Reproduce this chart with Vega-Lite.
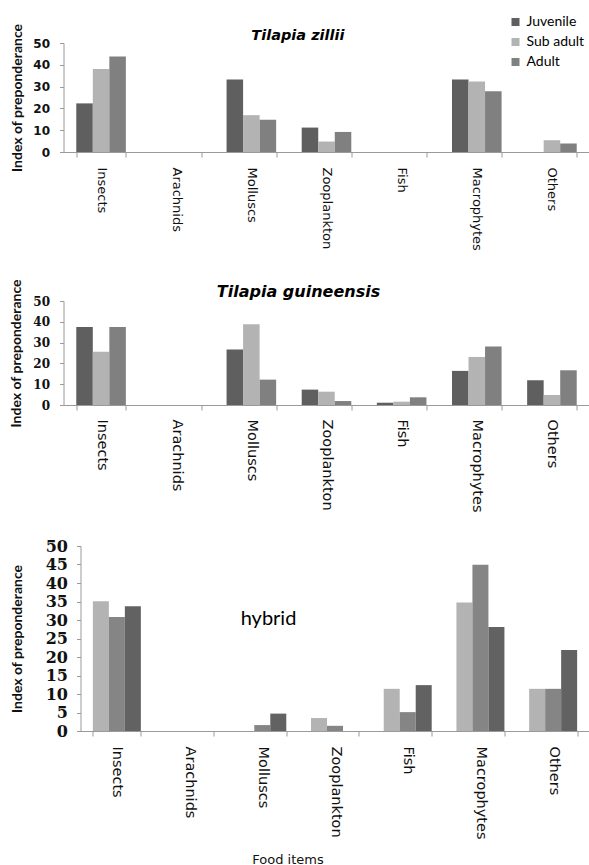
{
  "$schema": "https://vega.github.io/schema/vega-lite/v6.json",
  "padding": {"left": 9.5, "top": 15, "right": 0, "bottom": 0},
  "background": "white",
  "config": {
    "view": {"stroke": null},
    "font": "Lato",
    "axis": {"grid": false, "domainColor": "#9a9a9a", "tickColor": "#9a9a9a", "labelColor": "#111", "titleColor": "#111"}
  },
  "datasets": {
    "zillii": [
      {"item": "Insects", "stage": "Juvenile", "value": 22.3},
      {"item": "Insects", "stage": "Sub adult", "value": 38.1},
      {"item": "Insects", "stage": "Adult", "value": 43.8},
      {"item": "Arachnids", "stage": "Juvenile", "value": 0},
      {"item": "Arachnids", "stage": "Sub adult", "value": 0},
      {"item": "Arachnids", "stage": "Adult", "value": 0},
      {"item": "Molluscs", "stage": "Juvenile", "value": 33.2},
      {"item": "Molluscs", "stage": "Sub adult", "value": 16.9},
      {"item": "Molluscs", "stage": "Adult", "value": 14.8},
      {"item": "Zooplankton", "stage": "Juvenile", "value": 11.2},
      {"item": "Zooplankton", "stage": "Sub adult", "value": 4.8},
      {"item": "Zooplankton", "stage": "Adult", "value": 9.2},
      {"item": "Fish", "stage": "Juvenile", "value": 0},
      {"item": "Fish", "stage": "Sub adult", "value": 0},
      {"item": "Fish", "stage": "Adult", "value": 0},
      {"item": "Macrophytes", "stage": "Juvenile", "value": 33.2},
      {"item": "Macrophytes", "stage": "Sub adult", "value": 32.3},
      {"item": "Macrophytes", "stage": "Adult", "value": 27.9},
      {"item": "Others", "stage": "Juvenile", "value": 0},
      {"item": "Others", "stage": "Sub adult", "value": 5.4},
      {"item": "Others", "stage": "Adult", "value": 3.9}
    ],
    "guineensis": [
      {"item": "Insects", "stage": "Juvenile", "value": 37.5},
      {"item": "Insects", "stage": "Sub adult", "value": 25.6},
      {"item": "Insects", "stage": "Adult", "value": 37.5},
      {"item": "Arachnids", "stage": "Juvenile", "value": 0},
      {"item": "Arachnids", "stage": "Sub adult", "value": 0},
      {"item": "Arachnids", "stage": "Adult", "value": 0},
      {"item": "Molluscs", "stage": "Juvenile", "value": 26.7},
      {"item": "Molluscs", "stage": "Sub adult", "value": 38.8},
      {"item": "Molluscs", "stage": "Adult", "value": 12.2},
      {"item": "Zooplankton", "stage": "Juvenile", "value": 7.4},
      {"item": "Zooplankton", "stage": "Sub adult", "value": 6.4},
      {"item": "Zooplankton", "stage": "Adult", "value": 1.9},
      {"item": "Fish", "stage": "Juvenile", "value": 1.1},
      {"item": "Fish", "stage": "Sub adult", "value": 1.6},
      {"item": "Fish", "stage": "Adult", "value": 3.7},
      {"item": "Macrophytes", "stage": "Juvenile", "value": 16.4},
      {"item": "Macrophytes", "stage": "Sub adult", "value": 23.1},
      {"item": "Macrophytes", "stage": "Adult", "value": 28.1},
      {"item": "Others", "stage": "Juvenile", "value": 11.9},
      {"item": "Others", "stage": "Sub adult", "value": 4.8},
      {"item": "Others", "stage": "Adult", "value": 16.7}
    ],
    "hybrid": [
      {"item": "Insects", "stage": "Juvenile", "value": 35.1},
      {"item": "Insects", "stage": "Sub adult", "value": 30.8},
      {"item": "Insects", "stage": "Adult", "value": 33.7},
      {"item": "Arachnids", "stage": "Juvenile", "value": 0},
      {"item": "Arachnids", "stage": "Sub adult", "value": 0},
      {"item": "Arachnids", "stage": "Adult", "value": 0},
      {"item": "Molluscs", "stage": "Juvenile", "value": 0},
      {"item": "Molluscs", "stage": "Sub adult", "value": 1.6},
      {"item": "Molluscs", "stage": "Adult", "value": 4.7},
      {"item": "Zooplankton", "stage": "Juvenile", "value": 3.5},
      {"item": "Zooplankton", "stage": "Sub adult", "value": 1.4},
      {"item": "Zooplankton", "stage": "Adult", "value": 0},
      {"item": "Fish", "stage": "Juvenile", "value": 11.4},
      {"item": "Fish", "stage": "Sub adult", "value": 5.1},
      {"item": "Fish", "stage": "Adult", "value": 12.4},
      {"item": "Macrophytes", "stage": "Juvenile", "value": 34.7},
      {"item": "Macrophytes", "stage": "Sub adult", "value": 44.9},
      {"item": "Macrophytes", "stage": "Adult", "value": 28.1},
      {"item": "Others", "stage": "Juvenile", "value": 11.4},
      {"item": "Others", "stage": "Sub adult", "value": 11.4},
      {"item": "Others", "stage": "Adult", "value": 21.9}
    ]
  },
  "vconcat": [
    {
      "vconcat": [
        {
          "width": 526,
          "height": 109,
          "title": {"text": "Tilapia zillii", "font": "DejaVu Sans", "fontSize": 14.5, "fontWeight": "bold", "fontStyle": "italic", "frame": "group", "offset": -28, "dx": -28.6},
          "data": {"name": "zillii"},
          "mark": {"type": "bar"},
          "encoding": {
            "x": {
              "field": "item", "type": "nominal",
              "sort": ["Insects", "Arachnids", "Molluscs", "Zooplankton", "Fish", "Macrophytes", "Others"],
              "scale": {"paddingInner": 0.34, "paddingOuter": 0.17},
              "axis": {"title": null, "labelAngle": 90, "labelFont": "DejaVu Sans", "labelFontSize": 13, "labelPadding": 10, "tickSize": 5, "tickBand": "extent"}
            },
            "xOffset": {"field": "stage", "type": "nominal", "sort": ["Juvenile", "Sub adult", "Adult"]},
            "y": {
              "field": "value", "type": "quantitative",
              "scale": {"domain": [0, 50]},
              "axis": {"values": [0, 10, 20, 30, 40, 50], "title": "Index of preponderance", "titleFontSize": 14, "titleFontWeight": "bold", "titlePadding": 8, "labelFont": "DejaVu Sans", "labelFontSize": 12, "labelFontWeight": "bold", "tickSize": 4, "labelPadding": 10}
            },
            "color": {
              "field": "stage", "type": "nominal",
              "scale": {"domain": ["Juvenile", "Sub adult", "Adult"], "range": ["#5f5f5f", "#b3b3b3", "#808080"]},
              "legend": {"title": null, "orient": "none", "legendX": 445, "legendY": -28, "symbolType": "square", "symbolSize": 64, "labelFontSize": 14, "labelFont": "Lato", "rowPadding": 6, "labelOffset": 4, "symbolStrokeWidth": 0}
            }
          }
        },
        {
          "width": 526,
          "height": 104,
          "title": {"text": "Tilapia guineensis", "font": "DejaVu Sans", "fontSize": 16, "fontWeight": "bold", "fontStyle": "italic", "frame": "group", "offset": -21, "dx": -28},
          "data": {"name": "guineensis"},
          "mark": {"type": "bar"},
          "encoding": {
            "x": {
              "field": "item", "type": "nominal",
              "sort": ["Insects", "Arachnids", "Molluscs", "Zooplankton", "Fish", "Macrophytes", "Others"],
              "scale": {"paddingInner": 0.34, "paddingOuter": 0.17},
              "axis": {"title": null, "labelAngle": 90, "labelFont": "DejaVu Sans", "labelFontSize": 14.5, "labelPadding": 9, "tickSize": 5, "tickBand": "extent"}
            },
            "xOffset": {"field": "stage", "type": "nominal", "sort": ["Juvenile", "Sub adult", "Adult"]},
            "y": {
              "field": "value", "type": "quantitative",
              "scale": {"domain": [0, 50]},
              "axis": {"values": [0, 10, 20, 30, 40, 50], "title": "Index of preponderance", "titleFontSize": 14, "titleFontWeight": "bold", "titlePadding": 9, "labelFont": "DejaVu Serif", "labelFontSize": 12, "labelFontWeight": "bold", "tickSize": 4, "labelPadding": 10}
            },
            "color": {
              "field": "stage", "type": "nominal",
              "scale": {"domain": ["Juvenile", "Sub adult", "Adult"], "range": ["#5f5f5f", "#b3b3b3", "#808080"]},
              "legend": null
            }
          }
        }
      ],
      "spacing": 27,
      "resolve": {"scale": {"color": "independent", "x": "independent", "y": "independent", "xOffset": "independent"}, "legend": {"color": "independent"}}
    },
    {
      "width": 526,
      "height": 185,
      "title": {"text": "hybrid", "font": "Lato", "fontSize": 20, "fontWeight": "normal", "frame": "group", "offset": -91, "dx": -58},
      "data": {"name": "hybrid"},
      "mark": {"type": "bar"},
      "encoding": {
        "x": {
          "field": "item", "type": "nominal",
          "sort": ["Insects", "Arachnids", "Molluscs", "Zooplankton", "Fish", "Macrophytes", "Others"],
          "scale": {"paddingInner": 0.34, "paddingOuter": 0.17, "range": [17, 526]},
          "axis": {"title": "Food items", "titleFont": "DejaVu Sans", "titleFontSize": 13, "titleFontWeight": "normal", "titlePadding": 14, "titleX": 224, "labelAngle": 90, "labelFont": "DejaVu Sans", "labelFontSize": 14.5, "labelPadding": 10, "tickSize": 5, "tickBand": "extent"}
        },
        "xOffset": {"field": "stage", "type": "nominal", "sort": ["Juvenile", "Sub adult", "Adult"]},
        "y": {
          "field": "value", "type": "quantitative",
          "scale": {"domain": [0, 50]},
          "axis": {"values": [0, 5, 10, 15, 20, 25, 30, 35, 40, 45, 50], "offset": -17, "title": "Index of preponderance", "titleFontSize": 14, "titleFontWeight": "bold", "titlePadding": 21, "labelFont": "DejaVu Serif", "labelFontSize": 16, "labelFontWeight": "bold", "tickSize": 4, "labelPadding": 9}
        },
        "color": {
          "field": "stage", "type": "nominal",
          "scale": {"domain": ["Juvenile", "Sub adult", "Adult"], "range": ["#b3b3b3", "#858585", "#626262"]},
          "legend": null
        }
      }
    }
  ],
  "spacing": 25,
  "resolve": {"scale": {"color": "independent", "x": "independent", "y": "independent", "xOffset": "independent"}, "legend": {"color": "independent"}}
}
